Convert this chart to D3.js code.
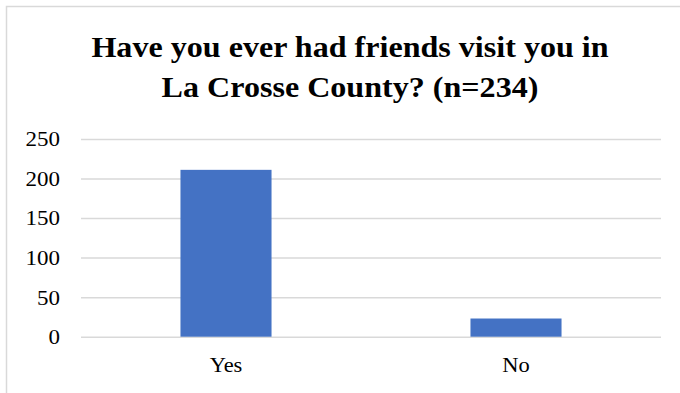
<!DOCTYPE html>
<html>
<head>
<meta charset="utf-8">
<script src="https://cdn.jsdelivr.net/npm/d3@7"></script>
<style>
  html, body { margin: 0; padding: 0; background: #ffffff; }
  svg { display: block; }
</style>
</head>
<body>
<svg id="chart" width="680" height="393"></svg>
<script>
// Survey responses
const categories = ["Yes", "No"];
const counts = [211, 23];
const yTicks = [0, 50, 100, 150, 200, 250];
const titleLines = ["Have you ever had friends visit you in", "La Crosse County? (n=234)"];

const svg = d3.select("#chart");
const W = 680, H = 393;
const margin = { top: 139, right: 19, bottom: 56.3, left: 81 };
const serif = "'Liberation Serif', 'Times New Roman', serif";
const stretch = 1.07; // slightly wide lettering

// Chart frame (extends past the right/bottom edges)
svg.append("rect")
  .attr("x", 6.5).attr("y", 6.5)
  .attr("width", 720).attr("height", 420)
  .attr("fill", "#ffffff")
  .attr("stroke", "#d9d9d9")
  .attr("stroke-width", 1.5);

// Title
svg.append("g")
  .selectAll("text")
  .data(titleLines)
  .join("text")
  .attr("transform", (d, i) => `translate(350,${57.3 + i * 39.4}) scale(${stretch},1)`)
  .attr("text-anchor", "middle")
  .attr("font-family", serif)
  .attr("font-weight", "bold")
  .attr("font-size", 30)
  .attr("fill", "#000000")
  .text(d => d);

const x = d3.scaleBand()
  .domain(categories)
  .range([margin.left, W - margin.right])
  .paddingInner(0.686)
  .paddingOuter(0.343);

const y = d3.scaleLinear()
  .domain([0, 250])
  .range([H - margin.bottom, margin.top]);

// Gridlines and value labels
const yAxis = d3.axisLeft(y)
  .tickValues(yTicks)
  .tickSize(-(W - margin.right - margin.left))
  .tickPadding(19.6)
  .tickFormat(d3.format("d"));

const gy = svg.append("g")
  .attr("transform", `translate(${margin.left},0)`)
  .call(yAxis);
gy.select(".domain").remove();
gy.selectAll(".tick line")
  .attr("stroke", "#d9d9d9")
  .attr("stroke-width", 1.5);
gy.selectAll(".tick text")
  .attr("font-family", serif)
  .attr("font-size", 21.5)
  .attr("transform", `scale(${stretch},1)`)
  .attr("fill", "#000000");

// Bars
svg.append("g")
  .selectAll("rect")
  .data(categories.map((c, i) => ({ c, v: counts[i] })))
  .join("rect")
  .attr("x", d => x(d.c))
  .attr("y", d => y(d.v))
  .attr("width", x.bandwidth())
  .attr("height", d => y(0) - y(d.v))
  .attr("fill", "#4472c4");

// Category axis
const xAxis = d3.axisBottom(x).tickSize(0).tickPadding(20.7);
const gx = svg.append("g")
  .attr("transform", `translate(0,${y(0)})`)
  .call(xAxis);
gx.select(".domain").remove();
gx.selectAll(".tick text")
  .attr("font-family", serif)
  .attr("font-size", 21)
  .attr("transform", `scale(${stretch},1)`)
  .attr("fill", "#000000");
</script>
</body>
</html>
